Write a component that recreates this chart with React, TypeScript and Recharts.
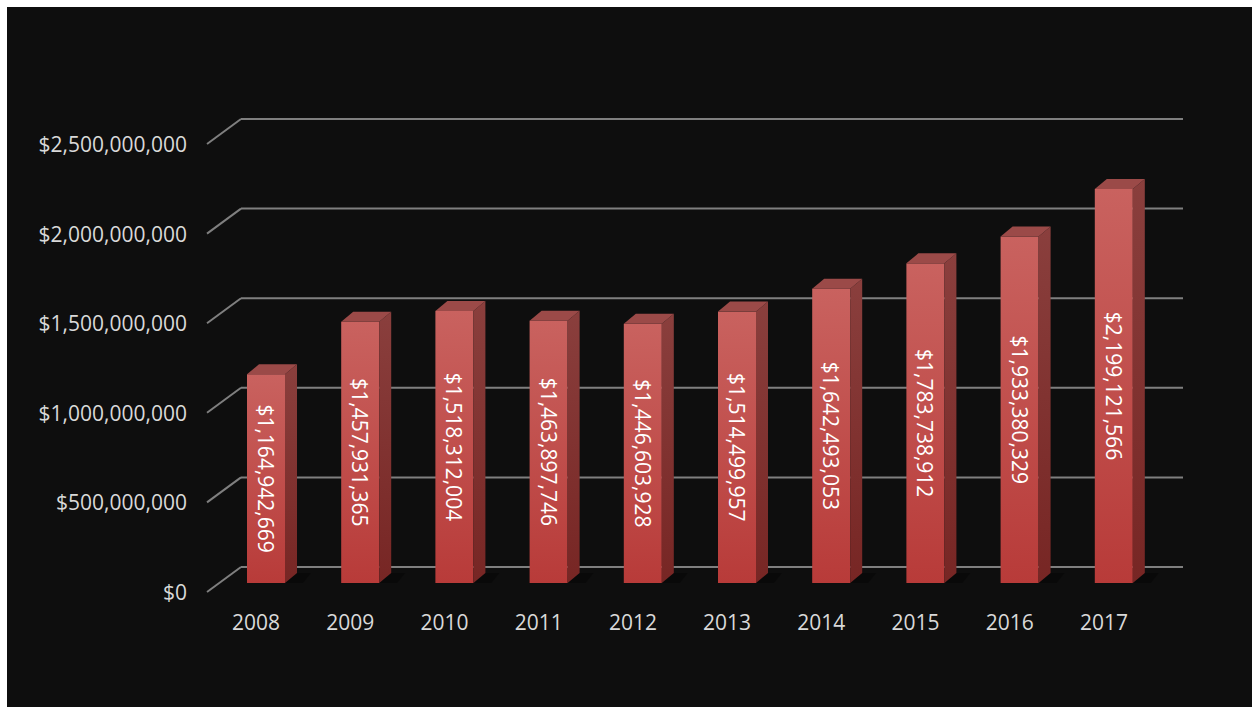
import React from 'react';
import { BarChart, Bar, XAxis, YAxis, CartesianGrid, LabelList } from 'recharts';

const years = ['2008', '2009', '2010', '2011', '2012', '2013', '2014', '2015', '2016', '2017'];
const revenue = [1164942669, 1457931365, 1518312004, 1463897746, 1446603928, 1514499957, 1642493053, 1783738912, 1933380329, 2199121566];
const yTicks = [0, 500000000, 1000000000, 1500000000, 2000000000, 2500000000];

const data = years.map((y, i) => ({ year: y, value: revenue[i] }));

const W = 1245;
const H = 700;
const PLOT_LEFT = 234;
const DX = -22; // bar depth shift (x)
const DY = 16; // bar depth shift (y)
const SX = 12; // 3D side offset x
const SY = -10; // 3D side offset y
const FONT = '"Open Sans", "Noto Sans", sans-serif';

const fmt = (v: number) => '$' + v.toLocaleString('en-US');

const Bar3D = (props: any) => {
  const { x, y, width, height } = props;
  const fx = x + DX;
  const fy = y + DY;
  const fb = y + height + DY;
  const fr = fx + width;
  return (
    <g>
      <polygon
        points={`${fx},${fb} ${fr + SX + 6},${fb} ${fr + SX + 14},${fb + SY} ${fr + SX},${fb + SY}`}
        fill="#000"
        opacity={0.35}
      />
      <rect x={fx} y={fy} width={width} height={fb - fy} fill="url(#frontGrad)" />
      <polygon points={`${fr},${fy} ${fr + SX},${fy + SY} ${fr + SX},${fb + SY} ${fr},${fb}`} fill="url(#sideGrad)" />
      <polygon points={`${fx},${fy} ${fx + SX},${fy + SY} ${fr + SX},${fy + SY} ${fr},${fy}`} fill="#9b4a48" />
    </g>
  );
};

const BarLabel = (props: any) => {
  const { x, y, width, height, value } = props;
  const cx = x + DX + width / 2;
  const cy = y + DY + height / 2;
  return (
    <text
      x={cx}
      y={cy}
      transform={`rotate(90 ${cx} ${cy})`}
      textAnchor="middle"
      dominantBaseline="central"
      fill="#ffffff"
      fontSize={21}
      fontFamily={FONT}
    >
      {fmt(Number(value))}
    </text>
  );
};

const YTick = (props: any) => {
  const { y, payload } = props;
  return (
    <g>
      <line x1={PLOT_LEFT} y1={y} x2={PLOT_LEFT - 34} y2={y + 25} stroke="#7f7f7f" strokeWidth={2} />
      <text
        x={180}
        y={y + 25}
        textAnchor="end"
        dominantBaseline="central"
        fill="#d9d9d9"
        fontSize={21}
        fontFamily={FONT}
      >
        {fmt(payload.value)}
      </text>
    </g>
  );
};

const XTick = (props: any) => {
  const { x, payload } = props;
  return (
    <text
      x={x - 32}
      y={615}
      textAnchor="middle"
      dominantBaseline="central"
      fill="#d9d9d9"
      fontSize={21}
      fontFamily={FONT}
    >
      {payload.value}
    </text>
  );
};

export default function App() {
  return (
    <div style={{ position: 'absolute', left: 7, top: 7, width: W, height: H, background: '#0e0e0e' }}>
      <BarChart width={W} height={H} data={data} margin={{ top: 112, right: 69, bottom: 110, left: 0 }}>
        <defs>
          <linearGradient id="frontGrad" x1="0" y1="0" x2="0" y2="1">
            <stop offset="0%" stopColor="#c9625f" />
            <stop offset="100%" stopColor="#b83b39" />
          </linearGradient>
          <linearGradient id="sideGrad" x1="0" y1="0" x2="0" y2="1">
            <stop offset="0%" stopColor="#8a3f3d" />
            <stop offset="100%" stopColor="#772624" />
          </linearGradient>
        </defs>
        <CartesianGrid vertical={false} stroke="#7f7f7f" strokeWidth={2} />
        <XAxis dataKey="year" axisLine={false} tickLine={false} tick={<XTick />} interval={0} height={30} />
        <YAxis
          width={234}
          domain={[0, 2500000000]}
          ticks={yTicks}
          axisLine={false}
          tickLine={false}
          tick={<YTick />}
          interval={0}
        />
        <Bar dataKey="value" barSize={38} shape={<Bar3D />} isAnimationActive={false}>
          <LabelList dataKey="value" content={<BarLabel />} />
        </Bar>
      </BarChart>
    </div>
  );
}
